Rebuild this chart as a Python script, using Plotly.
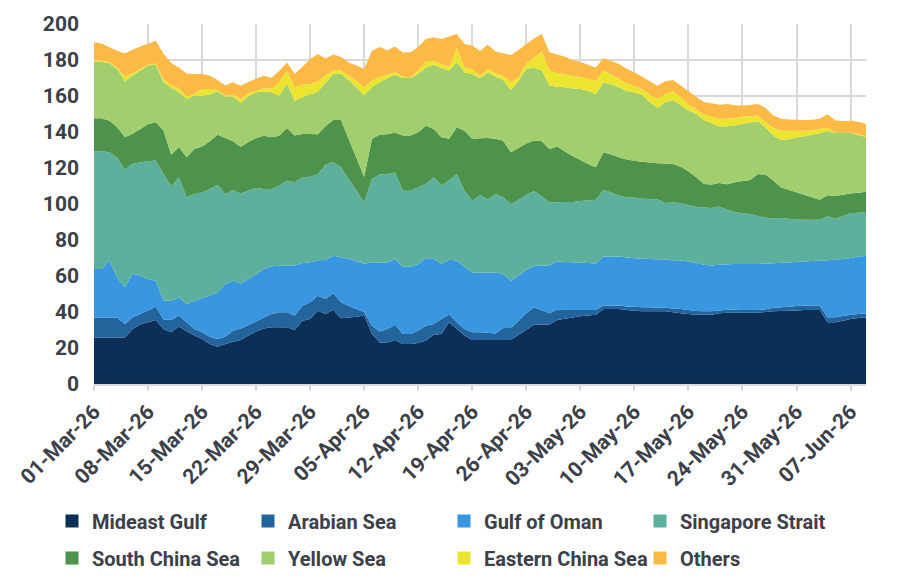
import pandas as pd
import plotly.graph_objects as go

start_date = "2026-03-01"
n_days = 101

mideast_gulf = [25.9, 25.9, 25.9, 25.9, 25.9, 30.6, 33.0, 34.3, 35.6, 30.6,
                28.7, 31.9, 29.3, 26.9, 25.0, 22.2, 20.7, 22.2, 23.5, 24.4,
                26.9, 29.1, 30.9, 31.5, 31.5, 31.5, 30.0, 35.2, 36.1, 40.7,
                38.9, 41.1, 36.5, 37.0, 37.4, 38.0, 27.8, 23.1, 23.1, 24.4,
                22.2, 22.2, 22.8, 24.1, 27.4, 27.8, 34.3, 30.6, 26.9, 24.4,
                24.4, 24.4, 24.4, 24.4, 24.4, 27.4, 30.0, 33.0, 33.0, 33.0,
                35.6, 36.3, 37.0, 37.6, 38.1, 38.5, 41.7, 41.7, 41.7, 41.1,
                40.7, 40.4, 40.4, 40.4, 40.4, 39.8, 39.3, 38.9, 38.5, 38.5,
                38.5, 39.3, 39.6, 39.6, 39.6, 39.6, 39.6, 40.0, 40.4, 40.6,
                40.7, 40.9, 41.1, 41.1, 41.1, 34.3, 34.3, 35.2, 36.1, 36.7,
                37.0]
arabian_sea = [11.1, 11.1, 11.1, 11.1, 7.4, 6.5, 5.9, 6.5, 7.4, 5.2,
               6.9, 6.1, 5.0, 3.7, 3.7, 4.1, 4.3, 4.1, 6.1, 6.5,
               5.9, 5.6, 6.1, 7.4, 8.3, 8.3, 8.0, 8.3, 9.3, 8.3,
               8.3, 9.3, 8.9, 6.5, 4.3, 1.9, 4.6, 6.1, 7.4, 8.5,
               5.6, 5.6, 6.9, 8.3, 5.9, 8.3, 4.3, 3.7, 3.7, 4.3,
               4.3, 4.1, 3.7, 6.7, 6.7, 7.8, 9.3, 9.6, 7.8, 6.3,
               5.6, 4.8, 4.1, 3.5, 3.0, 2.6, 1.9, 1.9, 1.9, 2.0,
               2.2, 2.2, 2.2, 2.0, 1.9, 2.2, 2.4, 2.2, 2.0, 1.9,
               1.9, 1.5, 1.7, 1.7, 1.5, 1.5, 1.5, 1.5, 1.9, 2.0,
               2.2, 2.4, 2.4, 2.4, 2.4, 2.8, 2.8, 2.6, 2.4, 2.2,
               2.2]
gulf_of_oman = [26.9, 26.9, 31.5, 22.2, 20.4, 24.1, 21.3, 17.6, 14.4, 10.6,
                10.7, 10.2, 10.2, 15.7, 19.1, 22.8, 25.9, 29.3, 27.8, 25.0,
                25.6, 26.1, 26.9, 26.5, 25.9, 25.9, 27.8, 23.7, 22.2, 19.8,
                21.7, 20.9, 25.0, 25.9, 26.5, 26.9, 35.2, 38.3, 37.0, 36.5,
                37.4, 37.4, 37.0, 37.6, 36.1, 30.6, 30.4, 34.3, 34.6, 33.3,
                33.3, 33.5, 33.9, 30.0, 26.3, 25.0, 24.1, 23.1, 25.0, 26.5,
                27.0, 26.7, 26.5, 26.3, 26.1, 25.9, 27.2, 27.2, 27.2, 27.2,
                27.0, 27.0, 26.9, 26.9, 26.7, 26.7, 26.9, 26.9, 26.7, 25.9,
                25.4, 25.4, 25.2, 25.4, 25.6, 25.6, 25.6, 25.4, 24.8, 24.8,
                24.6, 24.6, 24.6, 24.8, 25.0, 31.7, 31.9, 31.7, 31.5, 31.9,
                31.9]
singapore_strait = [65.4, 65.4, 60.2, 66.7, 65.4, 61.1, 63.0, 65.4, 66.7, 70.4,
                    63.5, 66.7, 59.3, 59.3, 58.7, 59.3, 59.8, 50.0, 50.4, 50.0,
                    49.1, 48.1, 44.4, 43.0, 44.4, 47.2, 46.3, 47.6, 47.6, 47.8,
                    53.1, 51.9, 50.0, 44.4, 39.3, 34.3, 46.3, 48.9, 49.1, 48.1,
                    42.2, 42.2, 42.6, 41.1, 45.4, 43.5, 44.4, 48.1, 42.2, 39.8,
                    43.0, 40.7, 43.5, 42.6, 42.6, 42.0, 41.9, 41.5, 38.3, 35.2,
                    32.8, 33.3, 33.5, 34.3, 34.8, 35.4, 37.0, 35.6, 33.9, 33.5,
                    33.7, 33.3, 33.3, 33.3, 31.5, 32.2, 31.9, 31.5, 31.3, 31.7,
                    32.0, 32.4, 30.4, 28.9, 28.1, 27.8, 26.7, 25.4, 24.8, 24.8,
                    24.3, 23.5, 23.1, 23.0, 22.8, 24.4, 22.8, 23.7, 24.8, 24.4,
                    24.4]
south_china_sea = [18.3, 18.3, 17.6, 16.7, 18.0, 16.7, 18.5, 20.7, 21.3, 24.1,
                   17.6, 16.7, 22.2, 25.0, 25.4, 26.5, 27.8, 31.1, 27.0, 25.9,
                   26.9, 27.8, 29.6, 28.7, 27.8, 29.3, 25.9, 24.1, 23.7, 22.2,
                   21.3, 23.5, 26.3, 22.2, 18.1, 13.9, 22.2, 22.2, 22.2, 22.2,
                   30.6, 30.6, 30.6, 32.4, 26.9, 26.9, 22.8, 25.9, 33.3, 34.3,
                   31.5, 33.9, 30.7, 31.5, 28.7, 28.9, 28.3, 28.1, 30.7, 29.6,
                   30.9, 28.1, 25.6, 22.8, 20.2, 18.0, 20.9, 21.1, 21.3, 20.9,
                   20.4, 20.6, 20.2, 20.0, 22.0, 21.3, 20.2, 18.7, 16.3, 13.1,
                   13.0, 13.0, 14.1, 16.5, 18.0, 18.9, 23.3, 23.9, 21.1, 17.0,
                   16.1, 15.0, 13.9, 12.4, 11.1, 11.7, 12.6, 11.9, 11.1, 11.1,
                   11.3]
yellow_sea = [31.7, 31.3, 31.9, 32.4, 31.1, 32.4, 32.4, 32.4, 32.0, 26.9,
              37.0, 30.6, 32.4, 29.6, 28.3, 25.9, 24.1, 23.0, 24.8, 24.6,
              25.4, 25.4, 24.6, 25.0, 22.2, 24.8, 19.4, 20.4, 21.9, 23.7,
              24.1, 25.6, 25.6, 32.8, 39.3, 45.4, 28.7, 29.1, 31.1, 32.2,
              32.0, 32.0, 32.4, 32.4, 35.6, 38.3, 38.0, 36.1, 32.4, 36.1,
              33.3, 36.5, 34.6, 33.7, 34.6, 37.4, 41.5, 40.4, 39.6, 35.2,
              33.3, 35.6, 37.4, 39.4, 40.7, 40.7, 38.9, 38.9, 38.9, 38.1,
              38.0, 37.2, 33.5, 30.7, 34.1, 35.6, 34.1, 33.7, 35.2, 35.6,
              34.1, 31.5, 32.2, 31.7, 31.7, 32.0, 29.3, 26.1, 25.0, 26.3,
              28.1, 30.6, 32.6, 34.8, 36.9, 35.7, 35.0, 34.3, 33.5, 32.0,
              30.4]
eastern_china_sea = [0.7, 0.7, 0.6, 0.9, 2.8, 1.3, 0.6, 0.6, 0.7, 1.3,
                     1.9, 1.9, 1.3, 0.9, 3.7, 3.1, 0.7, 0.6, 1.1, 1.9,
                     1.9, 0.6, 1.9, 1.9, 7.4, 7.0, 7.4, 7.0, 5.9, 5.6,
                     4.1, 1.9, 1.9, 2.4, 3.3, 4.6, 3.7, 2.8, 2.2, 1.3,
                     0.9, 0.4, 1.9, 3.3, 2.4, 2.4, 1.9, 8.0, 2.8, 2.8,
                     1.3, 1.9, 1.9, 2.4, 4.3, 1.9, 3.1, 5.6, 10.4, 8.3,
                     7.6, 7.4, 7.0, 6.5, 6.5, 7.4, 6.5, 5.6, 4.6, 4.3,
                     3.7, 3.1, 4.3, 5.0, 4.6, 4.8, 4.6, 3.3, 2.6, 3.0,
                     3.7, 4.3, 4.3, 3.9, 4.1, 3.3, 3.1, 3.1, 4.3, 5.2,
                     4.6, 3.7, 3.0, 2.6, 2.4, 1.9, 0.4, 0.2, 0.2, 0.4,
                     0.6]
others = [9.8, 9.6, 8.3, 9.3, 12.6, 13.0, 12.8, 11.5, 12.6, 14.4,
          12.0, 11.7, 12.6, 11.1, 8.3, 7.4, 5.6, 5.6, 6.9, 7.4,
          6.1, 6.9, 6.9, 6.1, 6.5, 4.6, 7.4, 10.0, 13.9, 15.2,
          9.4, 8.9, 7.4, 7.4, 8.7, 10.2, 16.7, 16.7, 13.3, 14.3,
          13.3, 13.9, 13.0, 12.4, 13.0, 13.9, 17.0, 7.8, 13.0, 13.0,
          13.9, 13.5, 12.0, 12.4, 15.2, 15.2, 10.7, 10.7, 9.6, 10.2,
          10.2, 9.6, 8.9, 8.5, 8.0, 7.4, 7.0, 7.4, 8.3, 8.0,
          7.4, 6.9, 7.4, 7.4, 7.0, 6.3, 6.5, 7.4, 7.0, 6.9,
          7.4, 7.8, 8.0, 7.2, 6.1, 6.3, 6.5, 8.0, 6.9, 6.7,
          6.3, 6.1, 5.9, 5.7, 5.6, 7.4, 6.7, 6.5, 6.7, 7.0,
          6.7]

series_names = ["Mideast Gulf", "Arabian Sea", "Gulf of Oman", "Singapore Strait",
                "South China Sea", "Yellow Sea", "Eastern China Sea", "Others"]
series_values = [mideast_gulf, arabian_sea, gulf_of_oman, singapore_strait,
                 south_china_sea, yellow_sea, eastern_china_sea, others]
series_colors = ["#0c2f57", "#23649c", "#3996e0", "#5db09c",
                 "#4e934c", "#a2cf6e", "#ece52f", "#fdb945"]

y_ticks = [0, 20, 40, 60, 80, 100, 120, 140, 160, 180, 200]

dates = pd.date_range(start_date, periods=n_days, freq="D")

FONT = "Roboto"
TXT = "#3b4049"

fig = go.Figure()
for name, vals, col in zip(series_names, series_values, series_colors):
    fig.add_trace(go.Scatter(
        x=dates, y=vals, name=name, stackgroup="one", mode="none",
        fillcolor=col, line=dict(width=0), showlegend=False,
        hoverinfo="x+y+name"))

# legend: one legend box per entry, laid out in 2 rows x 4 columns
legend_layout = {}
for i, (name, col) in enumerate(zip(series_names, series_colors)):
    key = "legend" if i == 0 else f"legend{i + 1}"
    fig.add_trace(go.Scatter(
        x=[None], y=[None], mode="markers", name=name,
        marker=dict(symbol="square", size=13, color=col, line=dict(width=0)),
        legend=key, showlegend=True))
    row, colnum = divmod(i, 4)
    legend_layout[key] = dict(
        x=(52 + 196 * colnum) / 905, y=1 - (521 + 37 * row) / 587,
        xanchor="left", yanchor="middle", orientation="h",
        xref="container", yref="container",
        font=dict(family=FONT, size=20, color=TXT, weight="bold"),
        bgcolor="rgba(0,0,0,0)", itemclick=False, itemdoubleclick=False)

fig.update_layout(
    width=905, height=587,
    margin=dict(l=94, r=39, t=24, b=203, pad=0, autoexpand=False),
    paper_bgcolor="white", plot_bgcolor="white",
    xaxis=dict(
        range=[dates[0], dates[-1]],
        tick0=start_date, dtick=7 * 86400000, tickformat="%d-%b-%y",
        tickangle=-45, showgrid=True, gridcolor="#d9d9d9", gridwidth=1.5,
        showline=True, linecolor="#d9d9d9", linewidth=2,
        ticks="outside", ticklen=5, tickcolor="#d9d9d9", tickwidth=1.5,
        tickfont=dict(family=FONT, size=21, color=TXT, weight="bold"),
        zeroline=False, automargin=False),
    yaxis=dict(
        range=[0, 200], tickvals=y_ticks,
        showgrid=True, gridcolor="#d9d9d9", gridwidth=1.5,
        zeroline=False, showline=False, ticks="",
        ticklabelstandoff=14, automargin=False,
        tickfont=dict(family=FONT, size=21, color=TXT, weight="bold")),
    hovermode=False,
    **legend_layout,
)

fig.write_html("out.html")
